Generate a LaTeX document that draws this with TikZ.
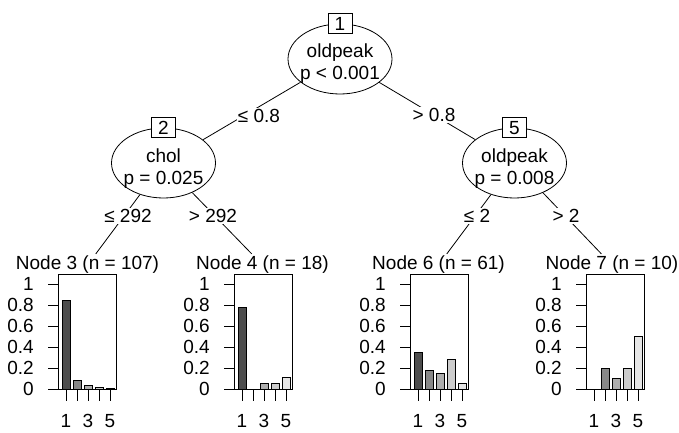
\documentclass[tikz,border=0pt]{standalone}
\usepackage{fontspec}
\setmainfont{Liberation Sans}
\usetikzlibrary{shapes.geometric,backgrounds}
\definecolor{bar1}{HTML}{4D4D4D}
\definecolor{bar2}{HTML}{888888}
\definecolor{bar3}{HTML}{AEAEAE}
\definecolor{bar4}{HTML}{CCCCCC}
\definecolor{bar5}{HTML}{E6E6E6}
\newcommand\termpanel[5]{%
  \node[ttitle] (title#2) at (#4,265) {#3};
  \foreach \v in {0,0.2,0.4,0.6,0.8,1} {
    \draw[thinline] ({#1-10},{389-105*\v}) -- ({#1},{389-105*\v});
    \node[ticklab, anchor=east] at ({#1-24},{389-105*\v}) {\v};
  }
  \foreach \h [count=\i] in {#5} {
    \pgfmathsetmacro\cx{#1+8+11*(\i-1)}
    \draw[thinline, fill=bar\i] ({\cx-3.9},389) rectangle ({\cx+3.9},{389-105*\h});
    \draw[thinline] (\cx,389) -- (\cx,401);
  }
  \node[ticklab] at ({#1+8},421) {1};
  \node[ticklab] at ({#1+30},421) {3};
  \node[ticklab] at ({#1+52},421) {5};
  \draw[thinline] (#1,274) rectangle ({#1+58},389);
}
\begin{document}
\begin{tikzpicture}[x=1pt,y=-1pt,
  every node/.style={font=\fontsize{19}{22}\selectfont},
  thinline/.style={line width=0.8pt},
  innernode/.style={ellipse, draw, fill=white, minimum width=104pt, minimum height=70pt, inner sep=0pt, line width=0.8pt},
  idbox/.style={rectangle, draw, fill=white, minimum width=24pt, minimum height=20pt, inner sep=1pt, line width=0.8pt},
  ntext/.style={anchor=base, inner sep=0pt},
  elabel/.style={fill=white, inner sep=1pt},
  ttitle/.style={inner sep=2pt},
  ticklab/.style={inner sep=0pt},
  edge/.style={line width=0.8pt}]
\useasboundingbox (0,0) rectangle (679,433);

% inner nodes
\node[innernode] (n1) at (340,59) {};
\node[idbox] (b1) at (n1.north) {1};
\node[ntext] (t1a) at (340,58) {oldpeak};
\node[ntext] (t1b) at (340,80) {p < 0.001};

\node[innernode] (n2) at (163.5,163) {};
\node[idbox] (b2) at (n2.north) {2};
\node[ntext] (t2a) at (163.5,162) {chol};
\node[ntext] (t2b) at (163.5,184) {p = 0.025};

\node[innernode] (n5) at (514.5,163) {};
\node[idbox] (b5) at (n5.north) {5};
\node[ntext] (t5a) at (514.5,162) {oldpeak};
\node[ntext] (t5b) at (514.5,184) {p = 0.008};

% edge labels
\node[elabel] (l12) at (259,116) {≤ 0.8};
\node[elabel] (l15) at (434,115) {> 0.8};
\node[elabel] (l23) at (128,216) {≤ 292};
\node[elabel] (l24) at (213,216) {> 292};
\node[elabel] (l56) at (477,216) {≤ 2};
\node[elabel] (l57) at (566,216) {> 2};

% terminal panels
\termpanel{58}{3}{Node 3 (n = 107)}{87.5}{0.84,0.084,0.037,0.015,0.004}
\termpanel{234}{4}{Node 4 (n = 18)}{262.5}{0.778,0,0.056,0.056,0.111}
\termpanel{410}{6}{Node 6 (n = 61)}{438.5}{0.344,0.18,0.148,0.279,0.049}
\termpanel{586}{7}{Node 7 (n = 10)}{612}{0,0.2,0.1,0.2,0.5}

% edges
\begin{scope}[on background layer]
\fill[white] (0,0) rectangle (679,433);
\draw[edge] (n1) -- (n2);
\draw[edge] (n1) -- (n5);
\draw[edge] (n2) -- (title3);
\draw[edge] (n2) -- (title4);
\draw[edge] (n5) -- (title6);
\draw[edge] (n5) -- (title7);
\end{scope}
\end{tikzpicture}
\end{document}
